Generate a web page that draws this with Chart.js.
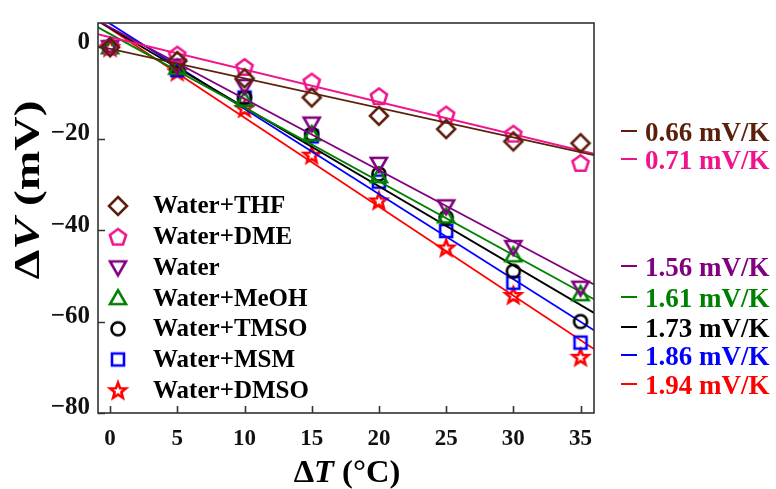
<!DOCTYPE html>
<html>
<head>
<meta charset="utf-8">
<script src="https://cdn.jsdelivr.net/npm/chart.js@4/dist/chart.umd.min.js"></script>
<style>
  body { margin: 0; background: #fff; }
  #wrap { width: 776px; height: 489px; }
</style>
</head>
<body>
<div id="wrap"><canvas id="myChart" width="776" height="489"></canvas></div>
<script>
// temperatuer (x) och spänning (y)
const temps = [0, 5, 10, 15, 20, 25, 30, 35]
const names = ['Water+THF', 'Water+DME', 'Water', 'Water+MeOH', 'Water+TMSO', 'Water+MSM', 'Water+DMSO']
const thf   = [0, -3, -6.8, -11, -15, -17.9, -20.6, -21]
const dme   = [0.3, -1.6, -4.3, -7.5, -10.7, -14.7, -18.9, -25.3]
const water = [0, -4, -8.5, -16.7, -25.5, -34.8, -43.7, -52.6]
const meoh  = [0, -4.5, -11.5, -19, -28.2, -37, -45.5, -54]
const tmso  = [0, -4.5, -11, -19, -27.7, -37.2, -49, -60]
const msm   = [0, -5, -11, -19.5, -29.4, -40.2, -51.5, -64.6]
const dmso  = [0, -5.3, -13.3, -23.5, -33.5, -43.8, -54.2, -67.7]
// anpassade linjer: värde vid x=-1 och x=36
const fitX = [-1, 36]
const fitStart = [0.3, 2.9, 5.9, 4.5, 5.9, 7.0, 6.0]
const fitEnd = [-23.6, -23.3, -51.9, -55.1, -58.1, -61.9, -66]
const slopeLabels = ['0.66 mV/K', '0.71 mV/K', '1.56 mV/K', '1.61 mV/K', '1.73 mV/K', '1.86 mV/K', '1.94 mV/K']
const xTicks = [0, 5, 10, 15, 20, 25, 30, 35]
const yTicks = [0, -20, -40, -60, -80]

const allValues = [thf, dme, water, meoh, tmso, msm, dmso]
const colors = ['#5b1f0b', '#f0148c', '#800080', '#008000', '#000000', '#0000ff', '#ff0000']
const shapes = ['diamond', 'pentagon', 'down', 'up', 'circle', 'square', 'star']
const FONT = '"Liberation Serif", "Times New Roman", serif'

// ritar en markör på en liten canvas så att den kan användas som pointStyle
function marker(shape, color) {
  const c = document.createElement('canvas')
  c.width = 26
  c.height = 26
  const g = c.getContext('2d')
  const m = 13
  g.strokeStyle = color
  g.lineWidth = 2.6
  g.beginPath()
  if (shape == 'diamond') {
    g.moveTo(m, m - 9); g.lineTo(m + 9, m); g.lineTo(m, m + 9); g.lineTo(m - 9, m); g.closePath()
  } else if (shape == 'pentagon') {
    for (let i = 0; i < 5; i++) {
      const a = (-90 + 72 * i) * Math.PI / 180
      const px = m + 8.5 * Math.cos(a), py = m + 0.8 + 8.5 * Math.sin(a)
      if (i == 0) g.moveTo(px, py); else g.lineTo(px, py)
    }
    g.closePath()
  } else if (shape == 'down') {
    g.moveTo(m - 8, m - 6); g.lineTo(m + 8, m - 6); g.lineTo(m, m + 8); g.closePath()
  } else if (shape == 'up') {
    g.moveTo(m - 8, m + 6); g.lineTo(m + 8, m + 6); g.lineTo(m, m - 8); g.closePath()
  } else if (shape == 'circle') {
    g.arc(m, m, 6.5, 0, Math.PI * 2)
  } else if (shape == 'square') {
    g.rect(m - 6, m - 6, 12, 12)
  } else if (shape == 'star') {
    for (let i = 0; i < 10; i++) {
      const r = i % 2 == 0 ? 8.3 : 3.5
      const a = (-90 + 36 * i) * Math.PI / 180
      const px = m + r * Math.cos(a), py = m + 0.8 + r * Math.sin(a)
      if (i == 0) g.moveTo(px, py); else g.lineTo(px, py)
    }
    g.closePath()
  }
  g.stroke()
  return c
}

const images = shapes.map((s, i) => marker(s, colors[i]))

const datasets = []
for (let n = 0; n < names.length; n++) {
  datasets.push({
    label: names[n],
    type: 'line',
    data: temps.map((t, k) => ({ x: t, y: allValues[n][k] })),
    showLine: false,
    pointStyle: images[n],
    pointRadius: 9,
    borderColor: colors[n],
    backgroundColor: colors[n]
  })
  datasets.push({
    label: names[n] + ' fit',
    type: 'line',
    data: [{ x: fitX[0], y: fitStart[n] }, { x: fitX[1], y: fitEnd[n] }],
    borderColor: colors[n],
    borderWidth: 1.8,
    pointRadius: 0
  })
}

// skriver text i flera delar (t.ex. kursiv bokstav), centrerad, med sträckning
function drawParts(ctx, parts, size, stretch) {
  let w = 0
  parts.forEach(p => { ctx.font = p[0] + size + 'px ' + FONT; w += ctx.measureText(p[1]).width })
  ctx.save()
  ctx.scale(stretch, 1)
  let x = -w / 2
  parts.forEach(p => {
    ctx.font = p[0] + size + 'px ' + FONT
    ctx.textAlign = 'left'
    ctx.fillText(p[1], x, 0)
    x += ctx.measureText(p[1]).width
  })
  ctx.restore()
}

// ram, inåtriktade streck, axeltitlar, legend och lutningar
const decor = {
  id: 'decor',
  afterDraw(chart) {
    const ctx = chart.ctx
    const a = chart.chartArea
    const xs = chart.scales.x, ys = chart.scales.y
    ctx.save()
    ctx.strokeStyle = '#333'
    ctx.lineWidth = 1.6
    ctx.strokeRect(a.left, a.top, a.right - a.left, a.bottom - a.top)
    ctx.beginPath()
    xTicks.forEach(t => {
      const px = Math.round(xs.getPixelForValue(t)) + 0.5
      ctx.moveTo(px, a.bottom); ctx.lineTo(px, a.bottom - 7)
    })
    yTicks.forEach(t => {
      const py = Math.round(ys.getPixelForValue(t)) + 0.5
      ctx.moveTo(a.left, py); ctx.lineTo(a.left + 7, py)
    })
    ctx.stroke()

    // axeltitlar
    ctx.fillStyle = '#000'
    ctx.textBaseline = 'middle'
    ctx.save()
    ctx.translate(347, 474)
    drawParts(ctx, [['bold ', 'Δ'], ['italic bold ', 'T'], ['bold ', ' (°C)']], 31, 1.05)
    ctx.restore()
    ctx.save()
    ctx.translate(30, 190)
    ctx.rotate(-Math.PI / 2)
    drawParts(ctx, [['bold ', 'Δ'], ['italic bold ', 'V'], ['bold ', ' (mV)']], 36, 1.32)
    ctx.restore()

    // legend inne i diagrammet
    for (let i = 0; i < names.length; i++) {
      const y = 206 + i * 30.7
      ctx.drawImage(images[i], 118 - 13, y - 13)
      ctx.font = 'bold 25px ' + FONT
      ctx.textAlign = 'left'
      ctx.fillStyle = '#000'
      ctx.fillText(names[i], 153, y + 1)
    }

    // lutningar till höger
    const labelY = [133, 161, 268, 299, 329, 357, 386]
    for (let i = 0; i < slopeLabels.length; i++) {
      const y = labelY[i]
      ctx.strokeStyle = colors[i]
      ctx.lineWidth = 2
      ctx.beginPath()
      ctx.moveTo(621, y - 2); ctx.lineTo(637, y - 2)
      ctx.stroke()
      ctx.fillStyle = colors[i]
      ctx.font = 'bold 27px ' + FONT
      ctx.textAlign = 'left'
      ctx.fillText(slopeLabels[i], 645, y + 1)
    }
    ctx.restore()
  }
}

const ctx = document.getElementById('myChart').getContext('2d')
const myChart = new Chart(ctx, {
  type: 'line',
  data: { datasets: datasets },
  plugins: [decor],
  options: {
    responsive: false,
    animation: false,
    layout: { padding: { left: 0, right: 182, top: 13, bottom: 0 } },
    plugins: { legend: { display: false }, tooltip: { enabled: false } },
    scales: {
      x: {
        type: 'linear',
        min: -0.9,
        max: 36,
        afterBuildTicks: s => { s.ticks = xTicks.map(v => ({ value: v })) },
        afterFit: s => { s.height = 76 },
        grid: { display: false, drawTicks: false },
        border: { display: false },
        ticks: { color: '#111', padding: 12, font: { family: FONT, size: 23, weight: 'bold' } }
      },
      y: {
        type: 'linear',
        min: -80,
        max: 5.3,
        afterBuildTicks: s => { s.ticks = yTicks.map(v => ({ value: v })) },
        afterFit: s => { s.width = 98 },
        grid: { display: false, drawTicks: false },
        border: { display: false },
        ticks: {
          color: '#111',
          padding: 8,
          labelOffset: -5,
          font: { family: FONT, size: 25, weight: 'bold' },
          callback: v => v < 0 ? '−' + Math.abs(v) : '' + v
        }
      }
    }
  }
})
</script>
</body>
</html>
